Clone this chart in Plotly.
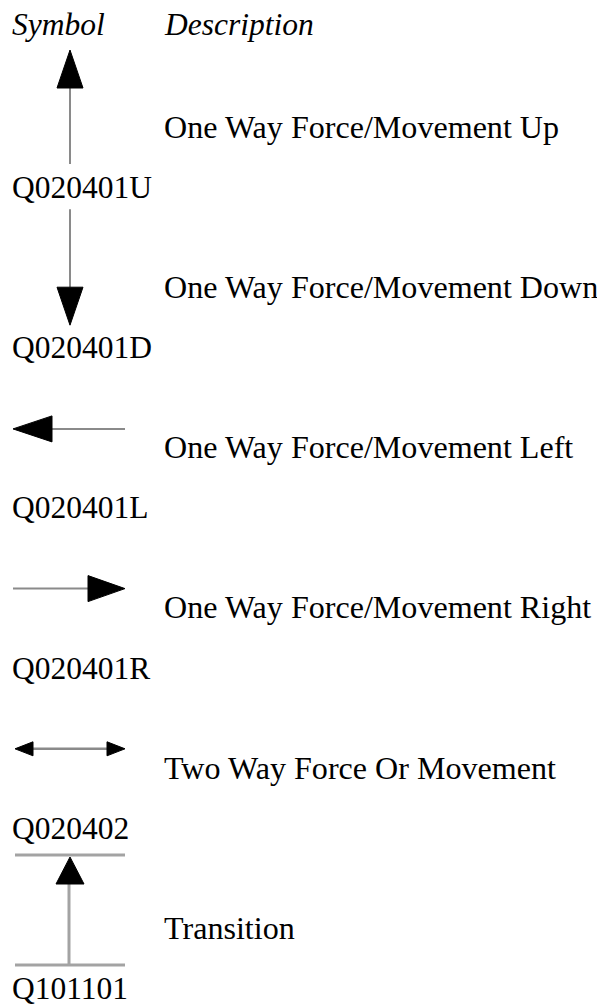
import plotly.graph_objects as go

# ---- data ----
headers = ["Symbol", "Description"]
codes = ["Q020401U", "Q020401D", "Q020401L", "Q020401R", "Q020402", "Q101101"]
descriptions = [
    "One Way Force/Movement Up",
    "One Way Force/Movement Down",
    "One Way Force/Movement Left",
    "One Way Force/Movement Right",
    "Two Way Force Or Movement",
    "Transition",
]
kinds = ["up", "down", "left", "right", "both", "transition"]

# ---- layout parameters (pixels) ----
W, H = 605, 1008
PAGE_MARGIN = 8  # default HTML body margin offsets the figure in the window
ROW = 160.2
FONT = "Liberation Serif, Times New Roman, serif"
FS = 31.5
FS_DESC = 32.1
LINE_C = "#8a8a8a"
TRANS_C = "#a3a3a3"

fig = go.Figure()


def line(xs, ys, color=LINE_C, width=2):
    fig.add_trace(go.Scatter(x=xs, y=ys, mode="lines", line=dict(color=color, width=width),
                             hoverinfo="skip", showlegend=False))


def tri(tip, direction, length, half):
    tx, ty = tip
    dx, dy = direction
    bx, by = tx - dx * length, ty - dy * length
    px, py = -dy, dx
    xs = [tx, bx + px * half, bx - px * half, tx]
    ys = [ty, by + py * half, by - py * half, ty]
    fig.add_trace(go.Scatter(x=xs, y=ys, mode="lines", fill="toself", fillcolor="black",
                             line=dict(color="black", width=1), hoverinfo="skip", showlegend=False))


def text(x, b, s, size=FS, italic=False):
    fig.add_annotation(x=x, y=b - 0.335 * size, text=s, showarrow=False, xanchor="left",
                       yanchor="middle", xref="x", yref="y", borderpad=0,
                       font=dict(family=FONT, size=size, color="black",
                                 style="italic" if italic else "normal"))


# headers
text(11, 35, headers[0], italic=True)
text(163, 35, headers[1], italic=True)

cx = 70
for i, (code, desc, kind) in enumerate(zip(codes, descriptions, kinds)):
    off = i * ROW
    text(11, 198 + off, code)
    text(163, 137.5 + off, desc, size=FS_DESC)
    if kind == "up":
        line([cx, cx], [88 + off, 164 + off])
        tri((cx, 50 + off), (0, -1), 38, 13)
    elif kind == "down":
        line([cx, cx], [49 + off, 127 + off])
        tri((cx, 165 + off), (0, 1), 38, 13)
    elif kind == "left":
        y = 108.5 + off
        line([52, 125], [y, y])
        tri((13, y), (-1, 0), 39, 13)
    elif kind == "right":
        y = 108 + off
        line([13, 88], [y, y])
        tri((125, y), (1, 0), 37, 13)
    elif kind == "both":
        y = 108 + off
        line([30, 110], [y, y], width=2.5)
        tri((15, y), (-1, 0), 18, 7)
        tri((125, y), (1, 0), 18, 7)
    elif kind == "transition":
        top, bot = 54 + off, 164 + off
        line([15, 125], [top, top], color=TRANS_C, width=3)
        line([15, 125], [bot, bot], color=TRANS_C, width=3)
        line([69, 69], [82 + off, bot], color=TRANS_C, width=3)
        tri((70, 56 + off), (0, -1), 27, 14)

fig.update_layout(
    width=W, height=H,
    margin=dict(l=0, r=0, t=0, b=0),
    paper_bgcolor="white", plot_bgcolor="white",
    xaxis=dict(range=[PAGE_MARGIN, W + PAGE_MARGIN], visible=False, fixedrange=True),
    yaxis=dict(range=[H + PAGE_MARGIN, PAGE_MARGIN], visible=False, fixedrange=True),
    showlegend=False,
)

fig.write_html("out.html")
